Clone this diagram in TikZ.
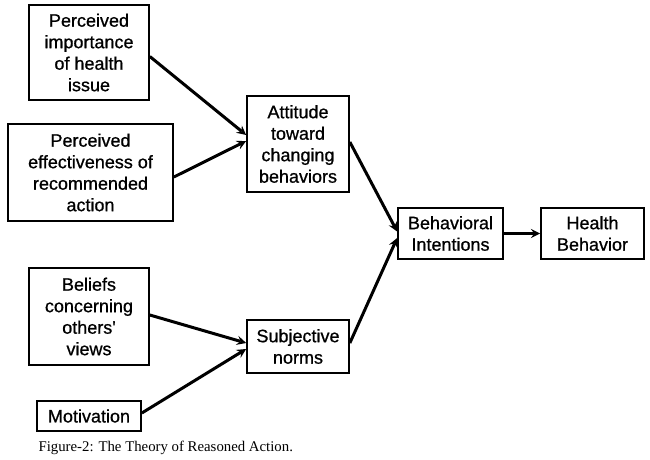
\documentclass[tikz,border=0pt]{standalone}
\usepackage{fontspec}
\setmainfont{Liberation Sans}
\newfontfamily\boxfont{Liberation Sans}[BoldFont={*},BoldFeatures={FakeBold=0.8}]
\newfontfamily\captionfont{Liberation Serif}
\usetikzlibrary{positioning,arrows}
\tikzset{
box/.style={draw=black, line width=1.7pt, align=center, inner sep=2pt,
    font=\boxfont\bfseries\fontsize{18}{21.5}\selectfont},
link/.style={->, line width=3pt}
}

\begin{document}
\begin{tikzpicture}[>=stealth,x=1pt,y=-1pt]
\useasboundingbox (0,0) rectangle (650,459);

\node[box, minimum width=120pt, minimum height=95pt] (imp) at (89,52.5)
    {Perceived\\importance\\of health\\issue};
\node[box, minimum width=165pt, minimum height=97pt] (eff) at (90.5,172.5)
    {Perceived\\effectiveness of\\recommended\\action};
\node[box, minimum width=102pt, minimum height=96pt] (att) at (298,144)
    {Attitude\\toward\\changing\\behaviors};
\node[box, minimum width=120pt, minimum height=97pt] (bel) at (89,316.5)
    {Beliefs\\concerning\\others'\\views};
\node[box, minimum width=102pt, minimum height=53pt] (subj) at (298,346.5)
    {Subjective\\norms};
\node[box, minimum width=104pt, minimum height=30pt] (mot) at (89,416)
    {Motivation};
\node[box, minimum width=105pt, minimum height=51pt] (intent) at (450.5,233.5)
    {Behavioral\\Intentions};
\node[box, minimum width=103pt, minimum height=51pt] (hb) at (592.5,233.5)
    {Health\\Behavior};

\draw[link] ([yshift=-4pt]imp.east) -- ([yshift=9pt]att.west);
\draw[link] ([yshift=-4.5pt]eff.east) -- ([yshift=3pt]att.west);
\draw[link] ([yshift=2pt]att.east) -- ([yshift=2pt]intent.west);
\draw[link] ([yshift=1.5pt]bel.east) -- ([yshift=3.5pt]subj.west);
\draw[link] ([yshift=3pt]mot.east) -- ([yshift=-2.5pt]subj.west);
\draw[link] ([yshift=3.5pt]subj.east) -- ([yshift=-4.5pt]intent.west);
\draw[link] (intent.east) -- (hb.west);

\node[anchor=west, font=\captionfont\fontsize{14.8}{17}\selectfont] (cap) at (35,448)
    {Figure-2: The Theory of Reasoned Action.};
\end{tikzpicture}
\end{document}
